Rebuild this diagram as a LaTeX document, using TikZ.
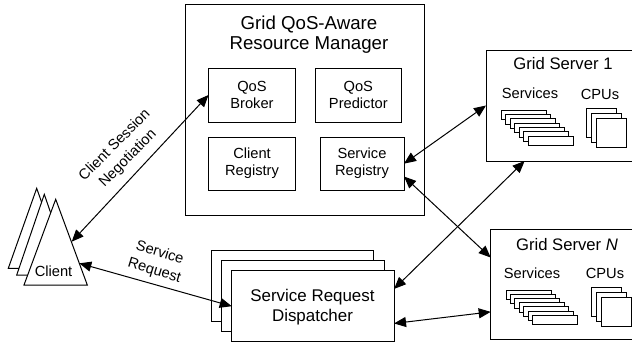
\documentclass[tikz,border=0pt]{standalone}
\usepackage{fontspec}
\setmainfont{Liberation Sans}
\usepackage{tikz}
\usetikzlibrary{arrows.meta}

\tikzset{
	box/.style={draw,fill=white,line width=0.75pt,anchor=north west,inner sep=0pt,outer sep=0pt,align=center},
	bar/.style={box,minimum width=33.75pt,minimum height=7.2pt},
	cpu/.style={box,minimum width=22.5pt,minimum height=22pt},
	tri/.style={draw,fill=white,line width=0.75pt},
	link/.style={line width=0.75pt,{Triangle[length=9pt,width=7.5pt]}-{Triangle[length=9pt,width=7.5pt]}},
	small/.style={font=\fontsize{11}{12.75}\selectfont,align=center},
	tilted/.style={font=\fontsize{11}{14}\selectfont,align=center},
	title/.style={font=\fontsize{14}{15}\selectfont,align=center},
	head/.style={font=\fontsize{12.5}{14}\selectfont,align=center}
}

\begin{document}
\begin{tikzpicture}[x=0.75pt,y=-0.75pt]
	\useasboundingbox (0,0) rectangle (632,343);

	% resource manager
	\node [box,minimum width=179.25pt,minimum height=158.25pt] (manager) at (185.5,4.5) {};
	\node [title] (manager title) at (309,35) {Grid QoS-Aware\\Resource Manager};
	\node [box,small,minimum width=65.25pt,minimum height=40.5pt] (broker) at (208.5,68) {QoS\\Broker};
	\node [box,small,minimum width=65pt,minimum height=40.5pt] (predictor) at (315,68) {QoS\\Predictor};
	\node [box,small,minimum width=65.25pt,minimum height=40pt] (client registry) at (208.5,137) {Client\\Registry};
	\node [box,small,minimum width=63pt,minimum height=40pt] (service registry) at (320,137) {Service\\Registry};

	% server 1
	\node [box,minimum width=112pt,minimum height=83.25pt] (server 1) at (486,50) {};
	\node [head] (server 1 title) at (563,64) {Grid Server 1};
	\node [small] (services 1) at (530,93) {Services};
	\node [small] (cpus 1) at (600,94) {CPUs};
	\node [bar] (bar 1a) at (501.3,110.3) {};
	\node [bar] (bar 1b) at (505.7,114.6) {};
	\node [bar] (bar 1c) at (510.2,118.9) {};
	\node [bar] (bar 1d) at (514.6,123.1) {};
	\node [bar] (bar 1e) at (519.1,127.4) {};
	\node [bar] (bar 1f) at (523.6,131.7) {};
	\node [bar] (bar 1g) at (528,136) {};
	\node [cpu] (cpu 1a) at (586.7,108) {};
	\node [cpu] (cpu 1b) at (591.7,113) {};
	\node [cpu] (cpu 1c) at (596.7,118) {};

	% server N
	\node [box,minimum width=112pt,minimum height=82.5pt] (server N) at (490.7,229.7) {};
	\node [head] (server N title) at (567,245) {Grid Server \textit{N}};
	\node [small] (services N) at (532,273) {Services};
	\node [small] (cpus N) at (605,273) {CPUs};
	\node [bar] (bar Na) at (506,290) {};
	\node [bar] (bar Nb) at (510.4,294.2) {};
	\node [bar] (bar Nc) at (514.9,298.4) {};
	\node [bar] (bar Nd) at (519.3,302.6) {};
	\node [bar] (bar Ne) at (523.8,306.9) {};
	\node [bar] (bar Nf) at (528.2,311.1) {};
	\node [bar] (bar Ng) at (532.7,315.3) {};
	\node [cpu] (cpu Na) at (591.3,287) {};
	\node [cpu] (cpu Nb) at (596.3,292) {};
	\node [cpu] (cpu Nc) at (601.3,297) {};

	% dispatcher
	\node [box,minimum width=122pt,minimum height=53pt] (dispatcher a) at (211,250.7) {};
	\node [box,minimum width=122pt,minimum height=53pt] (dispatcher b) at (221.7,260.7) {};
	\node [box,minimum width=121.75pt,minimum height=53.25pt] (dispatcher) at (231.7,270.7) {};
	\node [font=\fontsize{12.7}{15}\selectfont,align=center] (dispatcher text) at (312.5,307) {Service Request\\Dispatcher};

	% clients
	\draw [tri] (36.7,188.3) -- (65,268.3) -- (8.3,268.3) -- cycle;
	\draw [tri] (44.3,194.3) -- (72,275) -- (16.7,275) -- cycle;
	\draw [tri] (55.7,199.3) -- (87.3,285) -- (24,285) -- cycle;
	\node [small] (client) at (53.5,271) {Client};
	\coordinate (client top) at (71.7,241.7);
	\coordinate (client side) at (79.3,263.3);

	% links
	\draw [link] (client top) -- (broker.west);
	\draw [link] (client side) -- (dispatcher.west);
	\draw [link] (service registry.east) -- (server 1.west);
	\draw [link] (service registry.-17) -- (server N.160);
	\draw [link] (dispatcher.12) -- (server 1.-123);
	\draw [link] (dispatcher.-12) -- (server N.-160);

	\node [tilted,rotate=45] (negotiation) at (121.5,152) {Client Session\\Negotiation};
	\node [tilted,rotate=-17] (request) at (157,262) {Service\\Request};
\end{tikzpicture}
\end{document}
